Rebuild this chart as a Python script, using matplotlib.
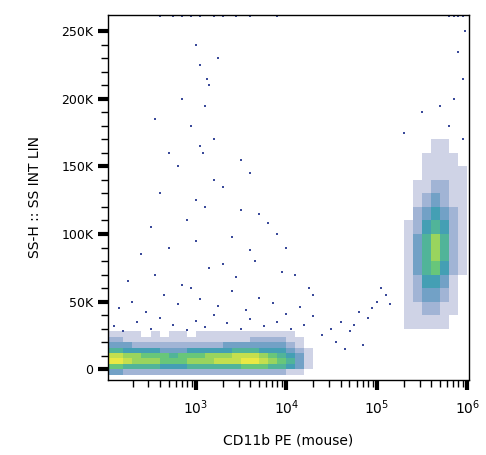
import numpy as np
import matplotlib.pyplot as plt
from matplotlib.colors import LinearSegmentedColormap

# dense low band: columns log10(x) 2.0..4.3 step 0.1, rows y -4K..28K step 4K
band = np.array([
    [3, 3, 2, 2, 2, 2, 2, 2, 2, 2, 2, 2, 2, 2, 2, 2, 2, 2, 2, 2, 1, 1, 0],
    [6, 6, 5, 5, 5, 5, 4, 4, 4, 5, 5, 5, 5, 5, 5, 6, 6, 6, 5, 5, 4, 3, 1],
    [9, 9, 8, 7, 7, 7, 6, 6, 6, 7, 7, 7, 8, 8, 8, 9, 9, 8, 7, 6, 5, 3, 1],
    [8, 8, 7, 7, 6, 6, 6, 5, 6, 6, 6, 7, 7, 7, 8, 8, 8, 7, 6, 5, 4, 3, 1],
    [5, 5, 4, 4, 4, 4, 3, 3, 3, 4, 4, 4, 4, 4, 5, 5, 5, 4, 4, 4, 3, 2, 1],
    [3, 3, 3, 2, 2, 2, 2, 2, 2, 2, 2, 2, 2, 3, 3, 3, 3, 3, 3, 3, 2, 1, 0],
    [2, 2, 1, 1, 1, 1, 1, 1, 1, 1, 1, 1, 1, 1, 1, 1, 2, 2, 2, 2, 1, 1, 0],
    [1, 1, 1, 1, 0, 1, 0, 1, 1, 0, 1, 1, 1, 1, 1, 1, 1, 1, 1, 1, 1, 0, 0],
])
band_xe = np.linspace(2.0, 4.3, 24)
band_ye = np.linspace(-4, 28, 9)

# CD11b+ cluster: columns log10(x) 5.2..6.0 step 0.1, rows y 30K..170K step 10K
clus = np.array([
    [0, 1, 1, 1, 1, 1, 0, 0],
    [0, 1, 1, 2, 2, 1, 1, 0],
    [0, 1, 2, 3, 3, 2, 1, 0],
    [0, 1, 2, 4, 4, 3, 1, 0],
    [0, 1, 3, 5, 6, 4, 2, 1],
    [0, 1, 3, 5, 7, 5, 2, 1],
    [0, 1, 3, 5, 7, 5, 2, 1],
    [0, 1, 2, 4, 5, 4, 2, 1],
    [0, 0, 2, 3, 4, 3, 2, 1],
    [0, 0, 1, 2, 3, 2, 1, 1],
    [0, 0, 1, 1, 2, 2, 1, 1],
    [0, 0, 0, 1, 1, 1, 1, 1],
    [0, 0, 0, 1, 1, 1, 1, 0],
    [0, 0, 0, 0, 1, 1, 0, 0],
])
clus_xe = np.linspace(5.2, 6.0, 9)
clus_ye = np.linspace(30, 170, 15)

# sparse events (log10 x, y in K)
sx = [2.1, 2.2, 2.35, 2.5, 2.6, 2.75, 2.9, 3.0, 3.1, 3.2, 3.35, 3.5, 3.6, 3.75, 3.9, 4.05, 4.2,
      2.15, 2.3, 2.45, 2.65, 2.8, 2.95, 3.05, 3.25, 3.4, 3.55, 3.7, 3.85, 4.0, 4.15, 4.3,
      2.25, 2.55, 2.85, 3.15, 3.45, 3.65, 3.95, 4.25, 2.4, 2.7, 3.0, 3.3, 3.6, 3.9, 4.1,
      2.5, 2.9, 3.1, 3.4, 3.7, 4.0, 2.6, 3.0, 3.2, 3.5, 3.8, 2.8, 3.05, 3.3, 3.6,
      2.95, 3.1, 3.15, 3.05, 3.2, 2.85, 3.0, 3.12, 3.08, 2.7, 2.55, 3.25, 3.5, 4.3,
      4.4, 4.5, 4.6, 4.7, 4.8, 4.9, 5.0, 5.1, 4.55, 4.75, 4.95, 5.05, 5.15, 4.65, 4.85,
      5.3, 5.5, 5.85, 5.95, 5.9, 5.8, 5.95, 5.7, 5.98,
      2.6, 2.75, 2.85, 2.95, 3.05, 3.2, 3.3, 3.45, 3.6, 3.9, 5.8, 5.85, 5.9, 5.95]
sy = [32, 28, 35, 30, 38, 33, 29, 36, 31, 40, 34, 30, 37, 32, 35, 30, 33,
      45, 50, 42, 55, 48, 60, 52, 47, 58, 44, 53, 49, 41, 46, 39,
      65, 70, 62, 75, 68, 80, 72, 60, 85, 90, 95, 78, 88, 100, 70,
      105, 110, 120, 98, 115, 90, 130, 125, 140, 118, 108, 150, 165, 135, 145,
      180, 195, 210, 225, 170, 200, 240, 215, 160, 160, 185, 230, 155, 55,
      25, 30, 35, 28, 42, 38, 50, 55, 20, 33, 45, 60, 48, 15, 18,
      175, 190, 200, 215, 235, 180, 170, 195, 250,
      261, 261, 261, 261, 261, 261, 261, 261, 261, 261, 261, 261, 261, 261]

xticks = [3, 4, 5, 6]
xlabels = ['$10^3$', '$10^4$', '$10^5$', '$10^6$']
yticks = [0, 50, 100, 150, 200, 250]
ylabels = ['0', '50K', '100K', '150K', '200K', '250K']

cmap = LinearSegmentedColormap.from_list(
    'flow', ['#3a4a9a', '#3a6fae', '#3aa0b0', '#55c07a', '#a8d84a', '#e8e83a'])

fig = plt.figure(figsize=(4.86, 4.55), dpi=100)
ax = fig.add_axes([108 / 486, 1 - 380 / 455, 361 / 486, 365 / 455])

for xe, ye, cnt in [(band_xe, band_ye, band), (clus_xe, clus_ye, clus)]:
    a = np.clip(cnt / 4.0, 0, 1) * 0.95
    ax.pcolormesh(xe, ye, np.ma.masked_equal(cnt, 0), cmap=cmap, vmin=1, vmax=9,
                  alpha=a, edgecolors='none')
ax.scatter(sx, sy, s=3, c='#3a4a9a', marker='s', linewidths=0)

ax.set_xlim(2.03, 6.02)
ax.set_ylim(-8, 262)
ax.set_xticks(xticks, xlabels, fontsize=10)
minor = [np.log10(m * 10 ** d) for d in range(2, 6) for m in range(2, 10)]
ax.set_xticks([m for m in minor if 2.03 < m < 6.02], minor=True)
ax.set_yticks(yticks, ylabels, fontsize=9)
ax.set_yticks(np.arange(10, 260, 10), minor=True)
ax.tick_params(axis='both', which='major', direction='out', length=7, width=3)
ax.tick_params(axis='both', which='minor', direction='out', length=5, width=1)
ax.tick_params(axis='x', which='major', pad=6)
for s in ax.spines.values():
    s.set_linewidth(1)
ax.set_xlabel('CD11b PE (mouse)', fontsize=10, labelpad=12)
ax.set_ylabel('SS-H :: SS INT LIN', fontsize=10, labelpad=14)

fig.savefig('out.png', dpi=100)
